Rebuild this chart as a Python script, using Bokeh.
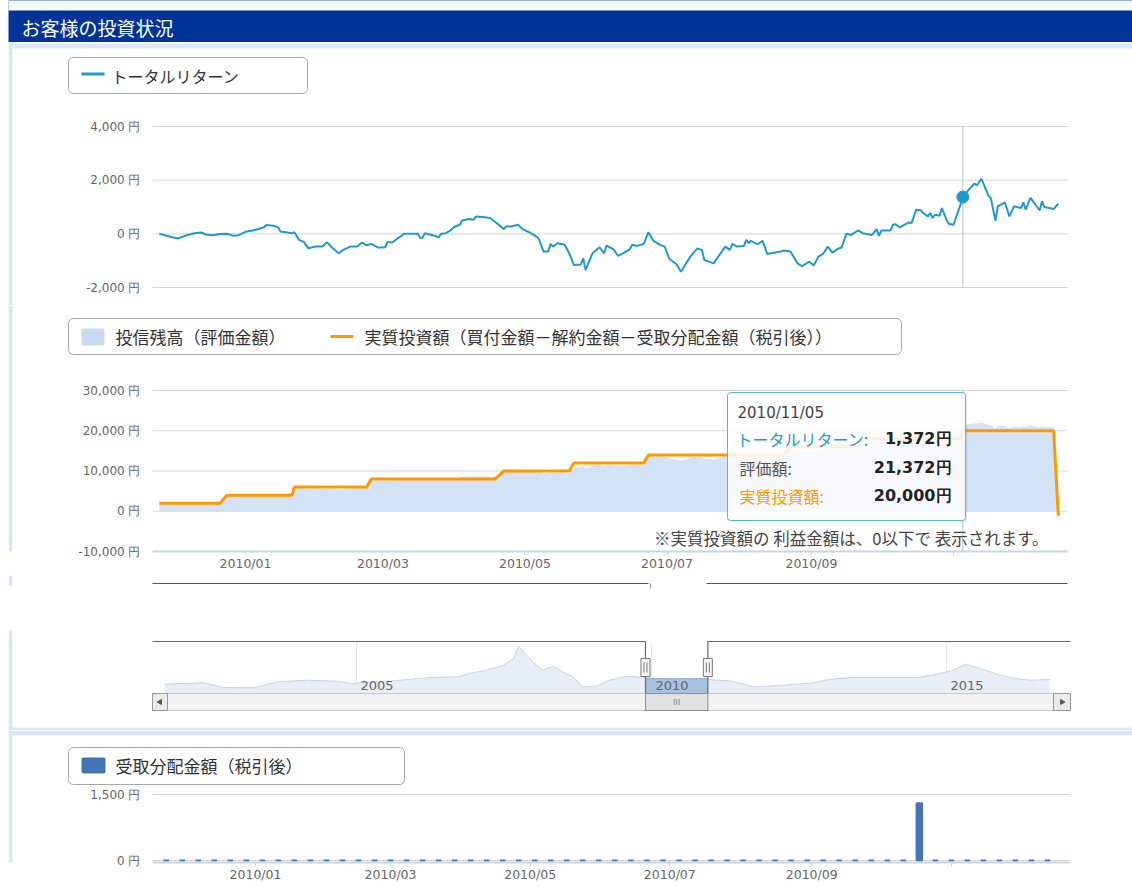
import math
import numpy as np
import pandas as pd
from bokeh.plotting import figure
from bokeh.layouts import column
from bokeh.models import Range1d, FixedTicker, BoxAnnotation, Label
from bokeh.embed import file_html
from bokeh.resources import INLINE
from bokeh.core.properties import value

# ---------------------------------------------------------------- data
return_dates = [
    "2009-11-25", "2009-12-01", "2009-12-03", "2009-12-07", "2009-12-10", "2009-12-13",
    "2009-12-15", "2009-12-18", "2009-12-21", "2009-12-24", "2009-12-27", "2009-12-29",
    "2010-01-01", "2010-01-04", "2010-01-07", "2010-01-09", "2010-01-10", "2010-01-13",
    "2010-01-15", "2010-01-16", "2010-01-19", "2010-01-21", "2010-01-22", "2010-01-24",
    "2010-01-26", "2010-01-28", "2010-01-31", "2010-02-03", "2010-02-05", "2010-02-07",
    "2010-02-10", "2010-02-12", "2010-02-15", "2010-02-18", "2010-02-20", "2010-02-22",
    "2010-02-24", "2010-02-27", "2010-03-02", "2010-03-03", "2010-03-05", "2010-03-07",
    "2010-03-09", "2010-03-10", "2010-03-16", "2010-03-17", "2010-03-18", "2010-03-19",
    "2010-03-22", "2010-03-25", "2010-03-26", "2010-03-28", "2010-03-30", "2010-04-01",
    "2010-04-03", "2010-04-04", "2010-04-07", "2010-04-09", "2010-04-10", "2010-04-13",
    "2010-04-16", "2010-04-18", "2010-04-22", "2010-04-23", "2010-04-25", "2010-04-28",
    "2010-04-30", "2010-05-03", "2010-05-06", "2010-05-07", "2010-05-09", "2010-05-11",
    "2010-05-12", "2010-05-13", "2010-05-15", "2010-05-18", "2010-05-20", "2010-05-22",
    "2010-05-25", "2010-05-26", "2010-05-27", "2010-05-30", "2010-06-01", "2010-06-02",
    "2010-06-04", "2010-06-05", "2010-06-08", "2010-06-10", "2010-06-12", "2010-06-15",
    "2010-06-16", "2010-06-18", "2010-06-21", "2010-06-23", "2010-06-25", "2010-06-28",
    "2010-06-30", "2010-07-02", "2010-07-05", "2010-07-07", "2010-07-09", "2010-07-11",
    "2010-07-14", "2010-07-16", "2010-07-17", "2010-07-21", "2010-07-23", "2010-07-26",
    "2010-07-28", "2010-07-29", "2010-07-31", "2010-08-03", "2010-08-04", "2010-08-05",
    "2010-08-06", "2010-08-09", "2010-08-11", "2010-08-13", "2010-08-19", "2010-08-20",
    "2010-08-23", "2010-08-26", "2010-08-28", "2010-08-31", "2010-09-02", "2010-09-04",
    "2010-09-06", "2010-09-08", "2010-09-10", "2010-09-12", "2010-09-14", "2010-09-16",
    "2010-09-18", "2010-09-21", "2010-09-23", "2010-09-27", "2010-09-29", "2010-09-30",
    "2010-10-01", "2010-10-05", "2010-10-06", "2010-10-07", "2010-10-09", "2010-10-11",
    "2010-10-13", "2010-10-14", "2010-10-16", "2010-10-18", "2010-10-19", "2010-10-21",
    "2010-10-22", "2010-10-23", "2010-10-24", "2010-10-26", "2010-10-27", "2010-10-29",
    "2010-10-30", "2010-11-01", "2010-11-04", "2010-11-05", "2010-11-07", "2010-11-10",
    "2010-11-11", "2010-11-13", "2010-11-16", "2010-11-17", "2010-11-19", "2010-11-20",
    "2010-11-23", "2010-11-25", "2010-11-27", "2010-11-30", "2010-12-01", "2010-12-02",
    "2010-12-04", "2010-12-07", "2010-12-08", "2010-12-09", "2010-12-10", "2010-12-14",
    "2010-12-16",
]
total_return = [
    0, -140, -175, -40, 25, 50,
    -25, -50, -10, 0, -75, -50,
    75, 125, 190, 250, 325, 300,
    250, 90, 50, 25, 60, -225,
    -300, -540, -475, -475, -310, -500,
    -725, -600, -475, -475, -325, -425,
    -375, -510, -500, -300, -325, -190,
    -75, 0, 0, -160, -150, 25,
    -40, -125, 0, 25, 125, 275,
    340, 500, 550, 525, 650, 625,
    590, 460, 175, 275, 275, 340,
    175, 50, -100, -200, -660, -660,
    -375, -475, -350, -410, -725, -1160,
    -1140, -910, -1350, -725, -575, -500,
    -725, -440, -575, -825, -725, -575,
    -410, -450, -375, 60, -250, -410,
    -475, -940, -1125, -1410, -1125, -850,
    -540, -600, -975, -1100, -850, -475,
    -600, -375, -475, -450, -225, -350,
    -260, -390, -260, -750, -660, -625,
    -660, -1100, -1200, -1040, -1175, -850,
    -750, -475, -700, -575, -500, 0,
    -40, 125, 25, -40, 175, -75,
    125, 125, 340, 360, 240, 340,
    425, 400, 900, 875, 775, 650,
    775, 590, 710, 675, 960, 525,
    375, 340, 1090, 1372, 1590, 1875,
    1800, 2050, 1425, 1340, 490, 1025,
    1175, 650, 1025, 960, 1175, 900,
    1340, 990, 875, 1210, 1000, 925,
    1125,
]

# 実質投資額: level changes (step series)
invest_change_dates = ["2009-11-25", "2009-12-24", "2010-01-22", "2010-02-24", "2010-04-22",
                       "2010-05-22", "2010-06-23", "2010-08-23", "2010-09-23", "2010-11-05",
                       "2010-12-16"]
invest_levels = [2000, 4000, 6000, 8000, 10000, 12000, 14000, 16000, 18000, 20000, -1125]

hover_date = "2010-11-05"

# 受取分配金額(税引後)
dist_dates = [
    "2009-11-23", "2009-11-30", "2009-12-07", "2009-12-14", "2009-12-21", "2009-12-28",
    "2010-01-04", "2010-01-11", "2010-01-18", "2010-01-25", "2010-02-01", "2010-02-08",
    "2010-02-15", "2010-02-22", "2010-03-01", "2010-03-08", "2010-03-15", "2010-03-22",
    "2010-03-29", "2010-04-05", "2010-04-12", "2010-04-19", "2010-04-26", "2010-05-03",
    "2010-05-10", "2010-05-17", "2010-05-24", "2010-05-31", "2010-06-07", "2010-06-14",
    "2010-06-21", "2010-06-28", "2010-07-05", "2010-07-12", "2010-07-19", "2010-07-26",
    "2010-08-02", "2010-08-09", "2010-08-16", "2010-08-23", "2010-08-30", "2010-09-06",
    "2010-09-13", "2010-09-20", "2010-09-27", "2010-10-04", "2010-10-11", "2010-10-18",
    "2010-10-25", "2010-11-01", "2010-11-08", "2010-11-15", "2010-11-22", "2010-11-29",
    "2010-12-06", "2010-12-13",
]
dist_values = [
    0, 0, 0, 0, 0, 0, 0, 0, 0, 0, 0, 0, 0, 0, 0, 0, 0, 0, 0, 0, 0, 0, 0, 0,
    0, 0, 0, 0, 0, 0, 0, 0, 0, 0, 0, 0, 0, 0, 0, 0, 0, 0, 0, 0, 0, 0, 0, 1300,
    0, 0, 0, 0, 0, 0, 0, 0,
]

# navigator (long history, relative index)
nav_dates = [
    "2001-10-01", "2002-06-01", "2002-10-01", "2003-04-01", "2003-09-01", "2004-03-01",
    "2004-09-01", "2004-12-01", "2005-10-01", "2006-04-01", "2006-10-01", "2006-12-01",
    "2007-04-01", "2007-07-01", "2007-09-01", "2007-10-01", "2007-11-01", "2008-01-01",
    "2008-03-01", "2008-05-01", "2008-07-01", "2008-09-01", "2008-11-01", "2009-02-01",
    "2009-04-01", "2009-08-01", "2009-12-01", "2010-04-01", "2010-12-01", "2011-05-01",
    "2011-10-01", "2012-03-01", "2012-10-01", "2013-01-01", "2013-06-01", "2013-12-01",
    "2014-07-01", "2014-10-01", "2015-02-01", "2015-05-01", "2015-09-01", "2015-12-01",
    "2016-03-01", "2016-06-01", "2016-10-01",
]
nav_index = [
    9.3, 10.7, 6.0, 5.7, 11.7, 13.3, 12.3, 10.0, 13.3, 16.0, 16.7, 20.0,
    24.0, 28.3, 35.0, 47.3, 41.7, 30.7, 23.3, 27.3, 21.7, 16.7, 6.7, 7.3,
    12.7, 17.3, 16.0, 14.3, 14.0, 12.7, 6.7, 8.0, 10.7, 14.0, 16.0, 16.0,
    16.0, 18.3, 22.7, 29.3, 23.3, 18.3, 15.0, 13.3, 14.0,
]
nav_year_ticks = ["2005-01-01", "2010-01-01", "2015-01-01"]
nav_year_labels = ["2005", "2010", "2015"]

month_ticks = ["2010-01-01", "2010-03-01", "2010-05-01", "2010-07-01", "2010-09-01", "2010-11-01"]
month_labels = ["2010/01", "2010/03", "2010/05", "2010/07", "2010/09", ""]

tr_ticks = [-2000, 0, 2000, 4000]
tr_tick_labels = ["-2,000 円", "0 円", "2,000 円", "4,000 円"]
bal_ticks = [-10000, 0, 10000, 20000, 30000]
bal_tick_labels = ["-10,000 円", "0 円", "10,000 円", "20,000 円", "30,000 円"]
dist_ticks = [0, 1500]
dist_tick_labels = ["0 円", "1,500 円"]

TITLE = "お客様の投資状況"
LEG_TR = "トータルリターン"
LEG_BAL = "投信残高（評価金額）"
LEG_INV = "実質投資額（買付金額－解約金額－受取分配金額（税引後））"
LEG_DIST = "受取分配金額（税引後）"
NOTE = "※実質投資額の 利益金額は、0以下で 表示されます。"


# ---------------------------------------------------------------- derived series
def ms(s):
    return int(pd.Timestamp(s).value // 10**6)


DAY = 86400000.0
ret_ms = [ms(d) for d in return_dates]
chg_ms = np.array([ms(d) for d in invest_change_dates])
lvl_idx = np.searchsorted(chg_ms, np.array(ret_ms), side="right") - 1
invested = [invest_levels[k] for k in lvl_idx]
valuation = [a + b for a, b in zip(invested, total_return)]
hi = return_dates.index(hover_date)
hover_ms = ret_ms[hi]

# ---------------------------------------------------------------- layout constants
W = 1132
FRAME_L = 8           # every frame starts here (page px)
PLOT_L, PLOT_R = 152, 1067
LIGHT = "#dce6f9"
BLUE = "#1e9ad0"
ORANGE = "#ff9900"
AREA = "#d3e2f4"
BAR = "#4474b5"
GRID = "#d5d5d5"
JP = "Noto Sans CJK JP"
NUM = "DejaVu Sans"
HAS_RADIUS = "border_radius" in BoxAnnotation.properties()


def main_x(px):      # page px -> ms for the two upper charts
    return ms("2010-01-01") + (px - 245.0) / 2.329 * DAY


def bot_x(px):
    return ms("2010-01-01") + (px - 255.0) / 2.289 * DAY


NAV_PX_PER_DAY = 59.0 / 365.25


def nav_x(px):
    return ms("2005-01-01") + (px - 356.0) / NAV_PX_PER_DAY * DAY


def yrange(v1, p1, v2, p2, top, bottom):
    f = lambda p: v1 + (p - p1) * (v2 - v1) / (p2 - p1)
    return Range1d(f(bottom), f(top))


class Cv:
    def __init__(self, p, top):
        self.p, self.top = p, top


def box(c, x0, y0, x1, y1, fill, line=None, lw=1, alpha=1.0, radius=0):
    kw = dict(left=x0, right=x1, top=y0 - c.top, bottom=y1 - c.top,
              left_units="canvas", right_units="canvas", top_units="canvas", bottom_units="canvas",
              fill_color=fill, fill_alpha=alpha,
              line_color=line, line_width=lw, line_alpha=1.0)
    if radius and HAS_RADIUS:
        kw["border_radius"] = radius
    c.p.add_layout(BoxAnnotation(**kw))


def text(c, x, y, s, size, color, font=JP, align="left", style="normal"):
    c.p.add_layout(Label(x=x, y=y - c.top, x_units="canvas", y_units="canvas", text=s,
                         text_font=font, text_font_size=size, text_color=color,
                         text_align=align, text_baseline="middle", text_font_style=style))


def make_fig(height, bottom_b, xr, yr, xaxis=True, yaxis=True, xtype="datetime"):
    p = figure(width=W, height=height, x_axis_type=xtype, x_range=xr, y_range=yr,
               x_axis_location="below" if xaxis else None,
               y_axis_location="left" if yaxis else None,
               toolbar_location=None, output_backend="svg",
               min_border_left=FRAME_L, min_border_right=0,
               min_border_top=0, min_border_bottom=bottom_b)
    p.outline_line_color = None
    p.background_fill_color = "white"
    p.border_fill_color = "white"
    p.xgrid.grid_line_color = None
    p.ygrid.grid_line_color = None
    return p


def style_y(p, ticks, labels, x0, x1, label_right=140):
    ax = p.yaxis[0]
    ax.ticker = FixedTicker(ticks=ticks)
    ax.major_label_overrides = {t: l for t, l in zip(ticks, labels)}
    ax.axis_line_color = None
    ax.major_tick_line_color = None
    ax.minor_tick_line_color = None
    ax.major_tick_in = 0
    ax.major_tick_out = 0
    ax.major_label_standoff = -(label_right - FRAME_L)
    ax.major_label_text_font = NUM
    ax.major_label_text_font_size = "12px"
    ax.major_label_text_color = "#666666"
    # horizontal grid lines limited to the plot area
    p.segment(x0=[x0] * len(ticks), y0=ticks, x1=[x1] * len(ticks), y1=ticks,
              line_color=GRID, line_width=1)


def style_x(p, b0, b1):
    mt = [ms(d) for d in month_ticks]
    ax = p.xaxis[0]
    ax.ticker = FixedTicker(ticks=mt)
    ax.major_label_overrides = {t: l for t, l in zip(mt, month_labels)}
    ax.bounds = (b0, b1)
    ax.axis_line_color = "#c8d5e3"
    ax.axis_line_width = 2
    ax.major_tick_line_color = "#c8d5e3"
    ax.major_tick_in = 0
    ax.major_tick_out = 4
    ax.minor_tick_line_color = None
    ax.major_label_standoff = 0
    ax.major_label_text_font = NUM
    ax.major_label_text_font_size = "12.5px"
    ax.major_label_text_color = "#666666"


x_main = Range1d(main_x(FRAME_L), main_x(W))

# ---------------------------------------------------------------- header
hdr = make_fig(42, 0, Range1d(0, 1), Range1d(0, 1), xaxis=False, yaxis=False, xtype="linear")
hdr.background_fill_color = "#003399"
ch = Cv(hdr, 0)
box(ch, 0, 0, W, 10, "#f5f7f9")
text(ch, 21, 27, TITLE, "19px", "#ffffff")

# ---------------------------------------------------------------- total return
p1 = make_fig(263, 0, x_main, yrange(4000, 126, -2000, 287, 42, 305), xaxis=False)
c1 = Cv(p1, 42)
box(c1, 8, 42, 12, 305, LIGHT)
box(c1, 8, 43, W, 48, LIGHT)
style_y(p1, tr_ticks, tr_tick_labels, main_x(PLOT_L), main_x(PLOT_R))
p1.segment(x0=[hover_ms], y0=[tr_ticks[0]], x1=[hover_ms], y1=[tr_ticks[-1]],
           line_color="#c4c4c4", line_width=1)
p1.line(ret_ms, total_return, line_color=BLUE, line_width=2)
p1.scatter([hover_ms], [total_return[hi]], size=12, fill_color=BLUE, line_color=BLUE)
box(c1, 68, 57, 307, 93, "#ffffff", line="#a8a8a8", radius=5)
box(c1, 81, 72, 104, 75, BLUE)
text(c1, 111, 75, LEG_TR, "16px", "#333333")

# ---------------------------------------------------------------- balance / invested
p2 = make_fig(270, 24, x_main, yrange(30000, 390, -10000, 551, 305, 551))
c2 = Cv(p2, 305)
box(c2, 8, 305, 12, 575, LIGHT)
style_y(p2, bal_ticks, bal_tick_labels, main_x(PLOT_L), main_x(PLOT_R))
style_x(p2, main_x(PLOT_L), main_x(PLOT_R))
p2.varea(x=ret_ms, y1=0, y2=valuation, fill_color=AREA)
p2.line(ret_ms, invested, line_color=ORANGE, line_width=3)
p2.segment(x0=[hover_ms], y0=[bal_ticks[0]], x1=[hover_ms], y1=[bal_ticks[-1]],
           line_color="#c4c4c4", line_width=1)
box(c2, 68, 318, 901, 354, "#ffffff", line="#a8a8a8", radius=5)
box(c2, 81, 328, 104, 345, "#c7daf1", radius=2)
text(c2, 115, 336, LEG_BAL, "17px", "#333333")
box(c2, 330, 334.5, 353, 337.5, ORANGE)
text(c2, 364, 336, LEG_INV, "17px", "#333333")
text(c2, 1048, 537, NOTE, "16.5px", "#444444", align="right")
# tooltip
box(c2, 729, 394, 967, 522, "#000000", alpha=0.06, radius=3)
box(c2, 727, 392, 965, 520, "#ffffff", line="#5ab4d6", alpha=0.86, radius=3)
text(c2, 737, 412, hover_date.replace("-", "/"), "15px", "#444444", font=NUM)
text(c2, 736, 438, "トータルリターン:", "16px", BLUE)
text(c2, 951, 438, f"{total_return[hi]:,}円", "16px", "#222222", font=NUM, align="right", style="bold")
text(c2, 739, 467, "評価額:", "16px", "#555555")
text(c2, 951, 467, f"{valuation[hi]:,}円", "16px", "#222222", font=NUM, align="right", style="bold")
text(c2, 739, 495, "実質投資額:", "16px", ORANGE)
text(c2, 951, 495, f"{invested[hi]:,}円", "16px", "#222222", font=NUM, align="right", style="bold")

# ---------------------------------------------------------------- navigator
p3 = make_fig(155, 0, Range1d(nav_x(FRAME_L), nav_x(W)), Range1d(693 - 730, 693 - 575),
              xaxis=False, yaxis=False)
c3 = Cv(p3, 575)
box(c3, 8, 575, 12, 585, LIGHT)
box(c3, 8, 630, 12, 730, LIGHT)
box(c3, 8, 727, W, 730, LIGHT)
NAV_TOP = 693 - 641
SB = 693 - 710
HY = 693 - 667
PX = DAY / NAV_PX_PER_DAY        # one navigator pixel in ms
nav_l, nav_r = nav_x(152), nav_x(1070)
sel_start, sel_end = ret_ms[0], ret_ms[-1]
nav_ms = [ms(d) for d in nav_dates]
yt = [ms(d) for d in nav_year_ticks]
p3.segment(x0=yt, y0=0, x1=yt, y1=NAV_TOP, line_color="#e6e6e6", line_width=1)
p3.varea(x=nav_ms, y1=0, y2=nav_index, fill_color="#e8eef5")
p3.line(nav_ms, nav_index, line_color="#c6d3e4", line_width=1)
sel_vals = [v for t, v in zip(nav_ms, nav_index) if sel_start <= t <= sel_end]
sel_top = sum(sel_vals) / len(sel_vals)
p3.quad(left=[sel_start], right=[sel_end], bottom=[0], top=[sel_top],
        fill_color="#a9c1df", line_color=None)
p3.segment(x0=[sel_start], y0=[sel_top], x1=[sel_end], y1=[sel_top], line_color="#8aa8d0", line_width=1)
p3.text(x=yt, y=[8] * len(yt), text=nav_year_labels, x_offset=4,
        text_align="left", text_baseline="middle", text_font=value(NUM),
        text_font_size="13px", text_color="#666666")
p3.line([nav_l, sel_start, sel_start, sel_end, sel_end, nav_r],
        [NAV_TOP, NAV_TOP, 0, 0, NAV_TOP, NAV_TOP], line_color="#6a6a6a", line_width=1.2)
p3.multi_line(xs=[[nav_l, nav_x(648)], [nav_x(706), nav_x(1067)]],
              ys=[[693 - 583, 693 - 583], [693 - 583, 693 - 583]], line_color="#555555", line_width=1.2)
p3.segment(x0=[nav_x(650)], y0=[693 - 583], x1=[nav_x(650)], y1=[693 - 588], line_color="#999999")
# scrollbar
p3.quad(left=[nav_l], right=[nav_r], bottom=[SB], top=[0],
        fill_color="#f2f2f2", line_color="#c8c8c8", line_width=1)
p3.quad(left=[nav_l, nav_x(1053)], right=[nav_x(167), nav_r],
        bottom=[SB, SB], top=[0, 0], fill_color="#ebebeb", line_color="#999999", line_width=1)
p3.scatter(x=[nav_x(159.5), nav_x(1061.5)], y=[SB / 2, SB / 2], marker="triangle",
           angle=[math.pi / 2, -math.pi / 2], size=5, fill_color="#555555", line_color="#555555")
p3.quad(left=[sel_start], right=[sel_end], bottom=[SB], top=[0],
        fill_color="#e2e2e2", line_color="#8c8c8c", line_width=1)
mid = (sel_start + sel_end) / 2
p3.segment(x0=[mid - 2.5 * PX, mid, mid + 2.5 * PX], y0=[SB / 2 - 3] * 3,
           x1=[mid - 2.5 * PX, mid, mid + 2.5 * PX], y1=[SB / 2 + 3] * 3,
           line_color="#8a8a8a", line_width=1)
# range handles
p3.rect(x=[sel_start, sel_end], y=[HY, HY], width=9, height=18, width_units="screen",
        height_units="screen", fill_color="#f7f7f7", line_color="#777777", line_width=1)
gx = [sel_start - 1.5 * PX, sel_start + 1.5 * PX, sel_end - 1.5 * PX, sel_end + 1.5 * PX]
p3.segment(x0=gx, y0=[HY - 5] * 4, x1=gx, y1=[HY + 5] * 4, line_color="#777777", line_width=1)

# ---------------------------------------------------------------- distributions
p4 = make_fig(156, 24, Range1d(bot_x(FRAME_L), bot_x(W)), yrange(1500, 794, 0, 860, 730, 862))
c4 = Cv(p4, 730)
box(c4, 8, 730, W, 735, LIGHT)
box(c4, 8, 730, 12, 886, LIGHT)
style_y(p4, dist_ticks, dist_tick_labels, bot_x(152), bot_x(1069))
style_x(p4, bot_x(152), bot_x(1069))
p4.vbar(x=[ms(d) for d in dist_dates], top=dist_values, bottom=0, width=2.4 * DAY,
        fill_color=BAR, line_color=BAR, line_width=2)
box(c4, 68, 747, 404, 784, "#ffffff", line="#a8a8a8", radius=5)
box(c4, 81, 757, 105, 773, BAR, radius=2)
text(c4, 115, 765, LEG_DIST, "17px", "#333333")

layout = column(hdr, p1, p2, p3, p4, spacing=0)
open("out.html", "w").write(file_html(layout, INLINE))
